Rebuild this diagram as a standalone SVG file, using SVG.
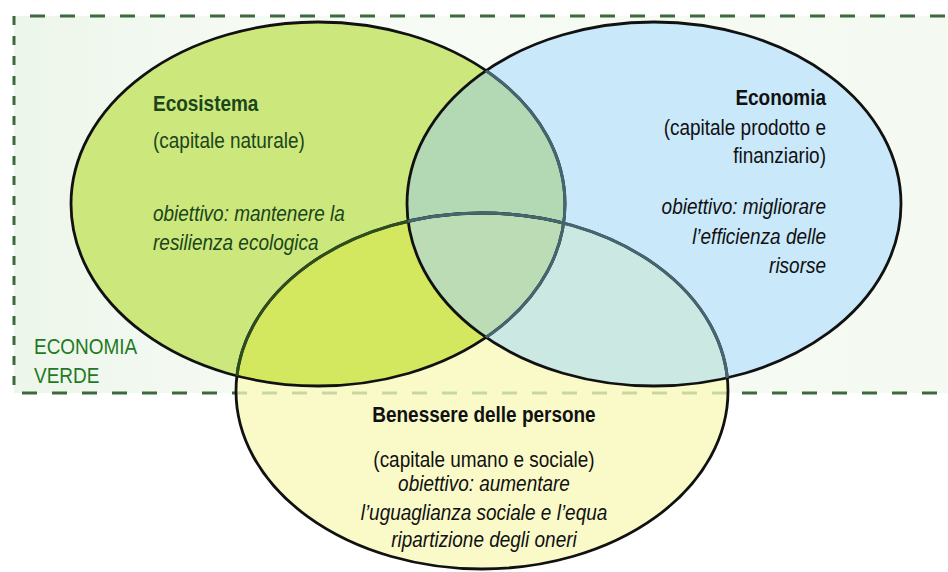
<svg xmlns="http://www.w3.org/2000/svg" width="948" height="572" viewBox="0 0 948 572">
<style>
text{font-family:"Liberation Sans",Arial,sans-serif;font-size:21.8px}
.b{font-weight:bold}
.i{font-style:italic}
.eco{fill:#1b451b}
.ec{fill:#111}
.gv{fill:#1f7a1f}
.dash{stroke:#3d6a3d;stroke-width:3;fill:none}
.out{fill:none;stroke:#111;stroke-width:2.8}
</style>
<defs>
<linearGradient id="bg" x1="0" y1="0" x2="1" y2="0">
<stop offset="0" stop-color="#edf6eb"/>
<stop offset="0.3" stop-color="#f7fbf5"/>
<stop offset="1" stop-color="#f4faf2"/>
</linearGradient>
<clipPath id="cG"><ellipse cx="318" cy="204" rx="247" ry="182"/></clipPath>
<clipPath id="cB"><ellipse cx="654" cy="204" rx="247" ry="182"/></clipPath>
<clipPath id="cY"><ellipse cx="482" cy="391" rx="246" ry="178"/></clipPath>
</defs>
<g id="green-economy-frame">
<rect x="14" y="16" width="940" height="377" fill="url(#bg)"/>
<line class="dash" x1="30" y1="16" x2="948" y2="16" stroke-dasharray="15 15"/>
<line class="dash" x1="14" y1="16" x2="14" y2="393" stroke-dasharray="9 11"/>
<line class="dash" x1="22" y1="393" x2="948" y2="393" stroke-dasharray="15 15"/>
</g>
<g id="fills">
<ellipse cx="482" cy="391" rx="246" ry="178" fill="#fafac9"/>
<g clip-path="url(#cY)"><line x1="22" y1="393" x2="948" y2="393" stroke="#c7d79f" stroke-width="3" stroke-dasharray="15 15"/></g>
<ellipse cx="318" cy="204" rx="247" ry="182" fill="#cce87c"/>
<ellipse cx="654" cy="204" rx="247" ry="182" fill="#c9e8fa"/>
<ellipse cx="318" cy="204" rx="247" ry="182" fill="#d3e85e" clip-path="url(#cY)"/>
<ellipse cx="654" cy="204" rx="247" ry="182" fill="#b3d8b4" clip-path="url(#cG)"/>
<ellipse cx="654" cy="204" rx="247" ry="182" fill="#cbe9e2" clip-path="url(#cY)"/>
<g clip-path="url(#cG)"><ellipse cx="654" cy="204" rx="247" ry="182" fill="#bcdcb6" clip-path="url(#cY)"/></g>
</g>
<g id="outlines">
<ellipse class="out" cx="482" cy="391" rx="246" ry="178"/>
<ellipse class="out" cx="318" cy="204" rx="247" ry="182"/>
<ellipse class="out" cx="654" cy="204" rx="247" ry="182"/>
<ellipse cx="482" cy="391" rx="246" ry="178" fill="none" stroke="#2d4d1f" stroke-width="3" clip-path="url(#cG)"/>
<ellipse cx="482" cy="391" rx="246" ry="178" fill="none" stroke="#456570" stroke-width="3" clip-path="url(#cB)"/>
<ellipse cx="318" cy="204" rx="247" ry="182" fill="none" stroke="#456570" stroke-width="3" clip-path="url(#cB)"/>
</g>
<g id="node-ecosistema" class="eco" transform="scale(0.87,1)">
<text x="175.9" y="111" class="b">Ecosistema</text>
<text x="175.9" y="148">(capitale naturale)</text>
<text x="175.9" y="221" class="i">obiettivo: mantenere la</text>
<text x="175.9" y="250" class="i">resilienza ecologica</text>
</g>
<g id="node-economia" class="ec" text-anchor="end" transform="scale(0.87,1)">
<text x="949.4" y="105" class="b">Economia</text>
<text x="949.4" y="135">(capitale prodotto e</text>
<text x="949.4" y="163">finanziario)</text>
<text x="949.4" y="214" class="i">obiettivo: migliorare</text>
<text x="949.4" y="244" class="i">l’efficienza delle</text>
<text x="949.4" y="273" class="i">risorse</text>
</g>
<g id="node-benessere" class="ec" text-anchor="middle" transform="scale(0.87,1)">
<text x="556.3" y="422" class="b">Benessere delle persone</text>
<text x="556.3" y="467">(capitale umano e sociale)</text>
<text x="556.3" y="491" class="i">obiettivo: aumentare</text>
<text x="556.3" y="520" class="i">l’uguaglianza sociale e l’equa</text>
<text x="556.3" y="547" class="i">ripartizione degli oneri</text>
</g>
<g id="label-economia-verde" class="gv" transform="scale(0.87,1)">
<text x="39.1" y="354">ECONOMIA</text>
<text x="39.1" y="383">VERDE</text>
</g>
</svg>
